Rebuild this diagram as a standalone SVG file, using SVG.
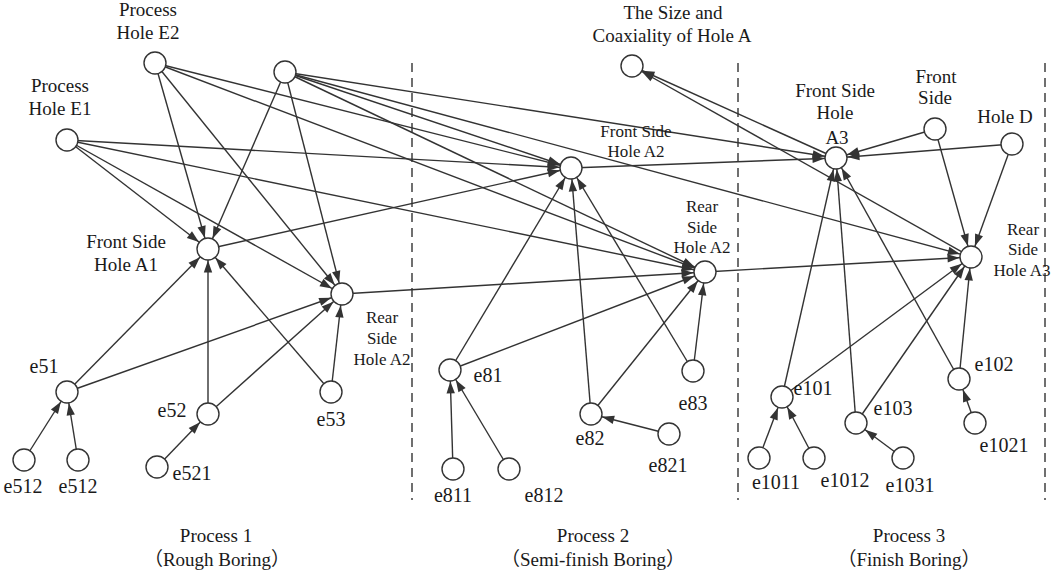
<svg xmlns="http://www.w3.org/2000/svg" width="1052" height="573" viewBox="0 0 1052 573">
<style>
.e{stroke:#333;stroke-width:1.4;fill:none;marker-end:url(#ah)}
.n{fill:#fff;stroke:#333;stroke-width:1.4}
.d{stroke:#333;stroke-width:1.4;stroke-dasharray:9 6;fill:none}
text{font-family:"Liberation Serif","Noto Sans CJK SC",serif;font-size:19px;fill:#1a1a1a;text-anchor:middle}
.s{font-size:17px}
.k{font-size:20px}
</style>
<defs>
<marker id="ah" markerUnits="userSpaceOnUse" markerWidth="12" markerHeight="9" refX="23.5" refY="4.5" orient="auto" overflow="visible">
<path d="M0,0.3 L12,4.5 L0,8.7 z" fill="#333"/>
</marker>
</defs>
<rect width="1052" height="573" fill="#fff"/>
<g id="dividers">
<line class="d" x1="412" y1="63" x2="412" y2="500"/>
<line class="d" x1="738" y1="63" x2="738" y2="500"/>
<line class="d" x1="1045" y1="63" x2="1045" y2="500"/>
</g>
<g id="connectors">
<line class="e" x1="155" y1="63" x2="208" y2="249"/>
<line class="e" x1="155" y1="63" x2="342" y2="294"/>
<line class="e" x1="155" y1="63" x2="571" y2="168"/>
<line class="e" x1="155" y1="63" x2="705" y2="272"/>
<line class="e" x1="285" y1="72" x2="208" y2="249"/>
<line class="e" x1="285" y1="72" x2="342" y2="294"/>
<line class="e" x1="285" y1="72" x2="571" y2="168"/>
<line class="e" x1="285" y1="72" x2="705" y2="272"/>
<line class="e" x1="285" y1="72" x2="836" y2="158"/>
<line class="e" x1="285" y1="72" x2="971" y2="257"/>
<line class="e" x1="67" y1="140" x2="208" y2="249"/>
<line class="e" x1="67" y1="140" x2="342" y2="294"/>
<line class="e" x1="67" y1="140" x2="571" y2="168"/>
<line class="e" x1="67" y1="140" x2="705" y2="272"/>
<line class="e" x1="208" y1="249" x2="571" y2="168"/>
<line class="e" x1="342" y1="294" x2="705" y2="272"/>
<line class="e" x1="67" y1="392" x2="208" y2="249"/>
<line class="e" x1="67" y1="392" x2="342" y2="294"/>
<line class="e" x1="208" y1="414" x2="208" y2="249"/>
<line class="e" x1="208" y1="414" x2="342" y2="294"/>
<line class="e" x1="331" y1="392" x2="208" y2="249"/>
<line class="e" x1="331" y1="392" x2="342" y2="294"/>
<line class="e" x1="24" y1="460" x2="67" y2="392"/>
<line class="e" x1="78" y1="460" x2="67" y2="392"/>
<line class="e" x1="157" y1="467" x2="208" y2="414"/>
<line class="e" x1="571" y1="168" x2="836" y2="158"/>
<line class="e" x1="705" y1="272" x2="971" y2="257"/>
<line class="e" x1="450" y1="370" x2="571" y2="168"/>
<line class="e" x1="450" y1="370" x2="705" y2="272"/>
<line class="e" x1="591" y1="414" x2="571" y2="168"/>
<line class="e" x1="591" y1="414" x2="705" y2="272"/>
<line class="e" x1="693" y1="371" x2="571" y2="168"/>
<line class="e" x1="693" y1="371" x2="705" y2="272"/>
<line class="e" x1="453" y1="469" x2="450" y2="370"/>
<line class="e" x1="509" y1="469" x2="450" y2="370"/>
<line class="e" x1="669" y1="434" x2="591" y2="414"/>
<line class="e" x1="836" y1="158" x2="632" y2="66"/>
<line class="e" x1="971" y1="257" x2="632" y2="66"/>
<line class="e" x1="935" y1="129" x2="836" y2="158"/>
<line class="e" x1="935" y1="129" x2="971" y2="257"/>
<line class="e" x1="1012" y1="144" x2="836" y2="158"/>
<line class="e" x1="1012" y1="144" x2="971" y2="257"/>
<line class="e" x1="782" y1="397" x2="836" y2="158"/>
<line class="e" x1="782" y1="397" x2="971" y2="257"/>
<line class="e" x1="856" y1="423" x2="836" y2="158"/>
<line class="e" x1="856" y1="423" x2="971" y2="257"/>
<line class="e" x1="959" y1="379" x2="836" y2="158"/>
<line class="e" x1="959" y1="379" x2="971" y2="257"/>
<line class="e" x1="759" y1="458" x2="782" y2="397"/>
<line class="e" x1="814" y1="458" x2="782" y2="397"/>
<line class="e" x1="903" y1="458" x2="856" y2="423"/>
<line class="e" x1="975" y1="423" x2="959" y2="379"/>
</g>
<g id="nE2"><circle class="n" cx="155" cy="63" r="11"/><text x="148" y="16">Process</text><text x="148" y="39">Hole E2</text></g>
<g id="nTop"><circle class="n" cx="285" cy="72" r="11"/></g>
<g id="nE1"><circle class="n" cx="67" cy="140" r="11"/><text x="60" y="92">Process</text><text x="60" y="115">Hole E1</text></g>
<g id="nA1"><circle class="n" cx="208" cy="249" r="11"/><text x="126" y="248">Front Side</text><text x="126" y="271">Hole A1</text></g>
<g id="nRA1"><circle class="n" cx="342" cy="294" r="11"/><text class="s" x="382" y="323">Rear</text><text class="s" x="382" y="344">Side</text><text class="s" x="382" y="365">Hole A2</text></g>
<g id="n_e51"><circle class="n" cx="67" cy="392" r="11"/><text class="k" x="44" y="373">e51</text></g>
<g id="n_e512a"><circle class="n" cx="24" cy="460" r="11"/><text class="k" x="23" y="493">e512</text></g>
<g id="n_e512b"><circle class="n" cx="78" cy="460" r="11"/><text class="k" x="78" y="493">e512</text></g>
<g id="n_e52"><circle class="n" cx="208" cy="414" r="11"/><text class="k" x="172" y="417">e52</text></g>
<g id="n_e521"><circle class="n" cx="157" cy="467" r="11"/><text class="k" x="192" y="480">e521</text></g>
<g id="n_e53"><circle class="n" cx="331" cy="392" r="11"/><text class="k" x="331" y="426">e53</text></g>
<g id="nFA2"><circle class="n" cx="571" cy="168" r="11"/><text class="s" x="636" y="137">Front Side</text><text class="s" x="636" y="157">Hole A2</text></g>
<g id="nRA2"><circle class="n" cx="705" cy="272" r="11"/><text class="s" x="702" y="212">Rear</text><text class="s" x="702" y="233">Side</text><text class="s" x="702" y="253">Hole A2</text></g>
<g id="nSize"><circle class="n" cx="632" cy="66" r="11"/><text x="673" y="19">The Size and</text><text x="672" y="42">Coaxiality of Hole A</text></g>
<g id="n_e81"><circle class="n" cx="450" cy="370" r="11"/><text class="k" x="488" y="382">e81</text></g>
<g id="n_e811"><circle class="n" cx="453" cy="469" r="11"/><text class="k" x="453" y="502">e811</text></g>
<g id="n_e812"><circle class="n" cx="509" cy="469" r="11"/><text class="k" x="544" y="502">e812</text></g>
<g id="n_e82"><circle class="n" cx="591" cy="414" r="11"/><text class="k" x="590" y="445">e82</text></g>
<g id="n_e821"><circle class="n" cx="669" cy="434" r="11"/><text class="k" x="668" y="472">e821</text></g>
<g id="n_e83"><circle class="n" cx="693" cy="371" r="11"/><text class="k" x="693" y="410">e83</text></g>
<g id="nFA3"><circle class="n" cx="836" cy="158" r="11"/><text x="835" y="97">Front Side</text><text x="835" y="119">Hole</text><text x="837" y="144">A3</text></g>
<g id="nFront"><circle class="n" cx="935" cy="129" r="11"/><text x="936" y="83">Front</text><text x="935" y="104">Side</text></g>
<g id="nHoleD"><circle class="n" cx="1012" cy="144" r="11"/><text x="1005" y="123">Hole D</text></g>
<g id="nRA3"><circle class="n" cx="971" cy="257" r="11"/><text class="s" x="1023" y="235">Rear</text><text class="s" x="1023" y="255">Side</text><text class="s" x="1022" y="276">Hole A3</text></g>
<g id="n_e101"><circle class="n" cx="782" cy="397" r="11"/><text class="k" x="813" y="395">e101</text></g>
<g id="n_e1011"><circle class="n" cx="759" cy="458" r="11"/><text class="k" x="776" y="489">e1011</text></g>
<g id="n_e1012"><circle class="n" cx="814" cy="458" r="11"/><text class="k" x="845" y="487">e1012</text></g>
<g id="n_e103"><circle class="n" cx="856" cy="423" r="11"/><text class="k" x="893" y="415">e103</text></g>
<g id="n_e1031"><circle class="n" cx="903" cy="458" r="11"/><text class="k" x="910" y="492">e1031</text></g>
<g id="n_e102"><circle class="n" cx="959" cy="379" r="11"/><text class="k" x="994" y="371">e102</text></g>
<g id="n_e1021"><circle class="n" cx="975" cy="423" r="11"/><text class="k" x="1004" y="452">e1021</text></g>
<g id="stages">
<text x="216" y="542">Process 1</text><text x="217" y="566">（Rough Boring）</text>
<text x="593" y="542">Process 2</text><text x="593" y="566">（Semi-finish Boring）</text>
<text x="909" y="542">Process 3</text><text x="909" y="566">（Finish Boring）</text>
</g>
</svg>
